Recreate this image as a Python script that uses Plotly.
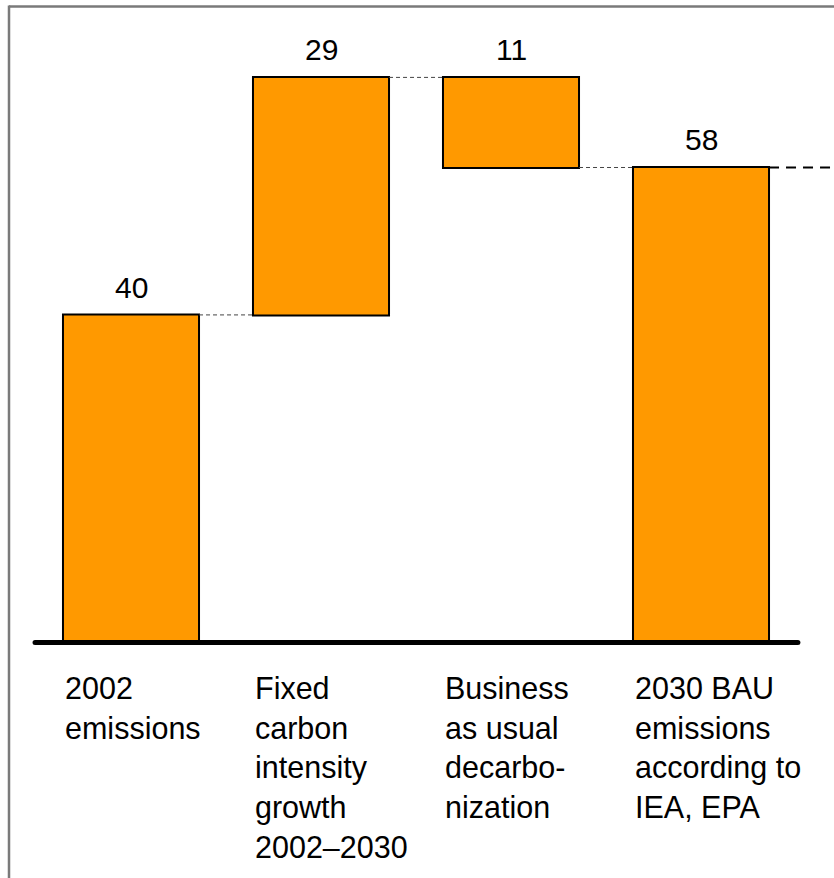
import plotly.graph_objects as go

# Emissions bridge: 2002 level, growth step, decarbonization step, 2030 total
categories = [
    "2002<br>emissions",
    "Fixed<br>carbon<br>intensity<br>growth<br>2002–2030",
    "Business<br>as usual<br>decarbo-<br>nization",
    "2030 BAU<br>emissions<br>according to<br>IEA, EPA",
]
measures = ["absolute", "relative", "relative", "total"]
values = [40, 29, -11, 58]
value_labels = ["40", "29", "11", "58"]

ORANGE = "#FF9900"
FONT = "Liberation Sans, Arial, sans-serif"
BAR_W = 0.716

x = list(range(len(categories)))

# running levels for bar tops
tops = []
level = 0
for m, v in zip(measures, values):
    if m == "absolute":
        level = v
        tops.append(level)
    elif m == "relative":
        tops.append(max(level, level + v))
        level += v
    else:
        tops.append(level)

bar_line = dict(color="black", width=2)

fig = go.Figure()
fig.add_trace(go.Waterfall(
    x=x,
    y=values,
    measure=measures,
    width=BAR_W,
    increasing=dict(marker=dict(color=ORANGE, line=bar_line)),
    decreasing=dict(marker=dict(color=ORANGE, line=bar_line)),
    totals=dict(marker=dict(color=ORANGE, line=bar_line)),
    connector=dict(mode="between", line=dict(color="#444444", width=1, dash="4px,3px")),
    hoverinfo="skip",
    showlegend=False,
))

# dashed continuation line from the final total bar
fig.add_trace(go.Scatter(
    x=[x[-1] + BAR_W / 2, 3.75],
    y=[tops[-1], tops[-1]],
    mode="lines",
    line=dict(color="black", width=2, dash="10px,7px"),
    hoverinfo="skip",
    showlegend=False,
))

# thick baseline with rounded ends
fig.add_trace(go.Scatter(
    x=[-0.505, 3.51],
    y=[0, 0],
    mode="lines+markers",
    line=dict(color="black", width=5),
    marker=dict(size=5, color="black", line=dict(width=0)),
    hoverinfo="skip",
    showlegend=False,
))

annotations = []
for xi, t, lab in zip(x, tops, value_labels):
    annotations.append(dict(
        x=xi, y=t, xref="x", yref="y",
        text=lab, showarrow=False,
        xanchor="center", yanchor="bottom", yshift=9,
        font=dict(family=FONT, size=30, color="black"),
    ))
for xi, cat in zip(x, categories):
    annotations.append(dict(
        x=xi - BAR_W / 2, y=-3.2, xref="x", yref="y",
        text=cat, showarrow=False, align="left",
        xanchor="left", yanchor="top",
        font=dict(family=FONT, size=30.5, color="black"),
    ))

shapes = [
    # frame lines (top and left)
    dict(type="line", xref="paper", yref="paper", x0=9 / 834, x1=1.0,
         y0=1 - 6.5 / 878, y1=1 - 6.5 / 878, line=dict(color="#7a7a7a", width=2.5)),
    dict(type="line", xref="paper", yref="paper", x0=9 / 834, x1=9 / 834,
         y0=0, y1=1 - 5.5 / 878, line=dict(color="#7a7a7a", width=2.5)),
]

fig.update_layout(
    width=834, height=878,
    margin=dict(l=0, r=0, t=0, b=0),
    paper_bgcolor="white", plot_bgcolor="white",
    xaxis=dict(range=[-0.6895, 3.7], visible=False, fixedrange=True),
    yaxis=dict(range=[-28.75, 78.45], visible=False, fixedrange=True),
    annotations=annotations,
    shapes=shapes,
    showlegend=False,
)

fig.write_html("out.html")
